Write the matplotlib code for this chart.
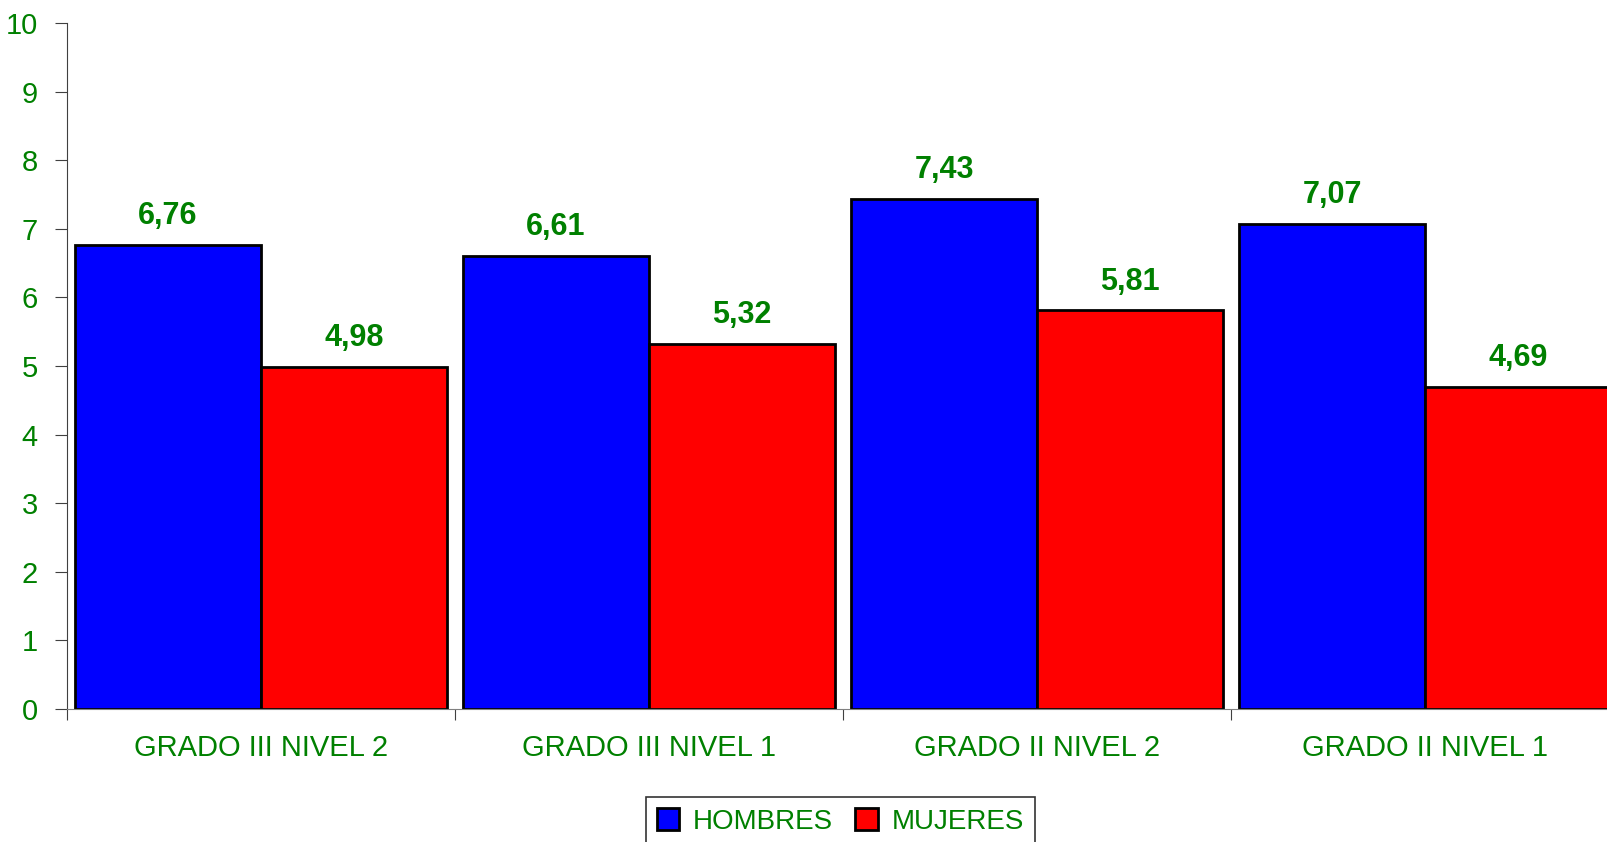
import matplotlib
matplotlib.use("Agg")
import matplotlib.pyplot as plt
import numpy as np

# data
categorias = ["GRADO III NIVEL 2", "GRADO III NIVEL 1", "GRADO II NIVEL 2", "GRADO II NIVEL 1"]
hombres = [6.76, 6.61, 7.43, 7.07]
mujeres = [4.98, 5.32, 5.81, 4.69]
series_names = ["HOMBRES", "MUJERES"]

verde = "#008000"
plt.rcParams['font.family'] = ['Liberation Sans', 'DejaVu Sans']

fig = plt.figure(figsize=(16.07, 8.42), dpi=100)
ax = fig.add_axes([0.0417, 0.158, 0.9658, 0.8147])

x = np.arange(len(categorias))
w = 0.479
b1 = ax.bar(x - w / 2, hombres, w, color="#0000FF", edgecolor="black", linewidth=2, label=series_names[0])
b2 = ax.bar(x + w / 2, mujeres, w, color="#FF0000", edgecolor="black", linewidth=2, label=series_names[1])

# value labels above each bar
for bars, vals in [(b1, hombres), (b2, mujeres)]:
    for rect, v in zip(bars, vals):
        ax.annotate(f"{v:.2f}".replace(".", ","),
                    (rect.get_x() + rect.get_width() / 2, v),
                    xytext=(0, 10), textcoords="offset points",
                    ha="center", va="bottom", color=verde,
                    fontsize=22, fontweight="bold")

ax.set_xlim(-0.5, len(categorias) - 0.5)
ax.set_ylim(0, 10)
ax.set_yticks(range(0, 11))

# boundaries as major ticks, names as minor ticks
ax.set_xticks(np.arange(-0.5, len(categorias), 1.0))
ax.set_xticklabels([])
ax.set_xticks(x, minor=True)
ax.set_xticklabels(categorias, minor=True)
ax.tick_params(axis="x", which="minor", length=0, pad=18, labelsize=21, labelcolor=verde)
ax.tick_params(axis="x", which="major", length=8, direction="out", color="#404040")
ax.tick_params(axis="y", length=9, direction="out", labelsize=21, labelcolor=verde, pad=12, color="#404040")

for s in ["top", "right"]:
    ax.spines[s].set_visible(False)
ax.spines["left"].set_color("#404040")
ax.spines["bottom"].set_color("#808080")

leg = fig.legend(loc="upper center", bbox_to_anchor=(0.523, 0.053), ncol=2,
                 fontsize=20, frameon=True, fancybox=False, edgecolor="black",
                 handlelength=0.8, handleheight=0.8, handletextpad=0.5, columnspacing=0.8,
                 borderpad=0.4, borderaxespad=0)
leg.get_frame().set_linewidth(1.2)
for t in leg.get_texts():
    t.set_color(verde)

fig.savefig("out.png", dpi=100)
